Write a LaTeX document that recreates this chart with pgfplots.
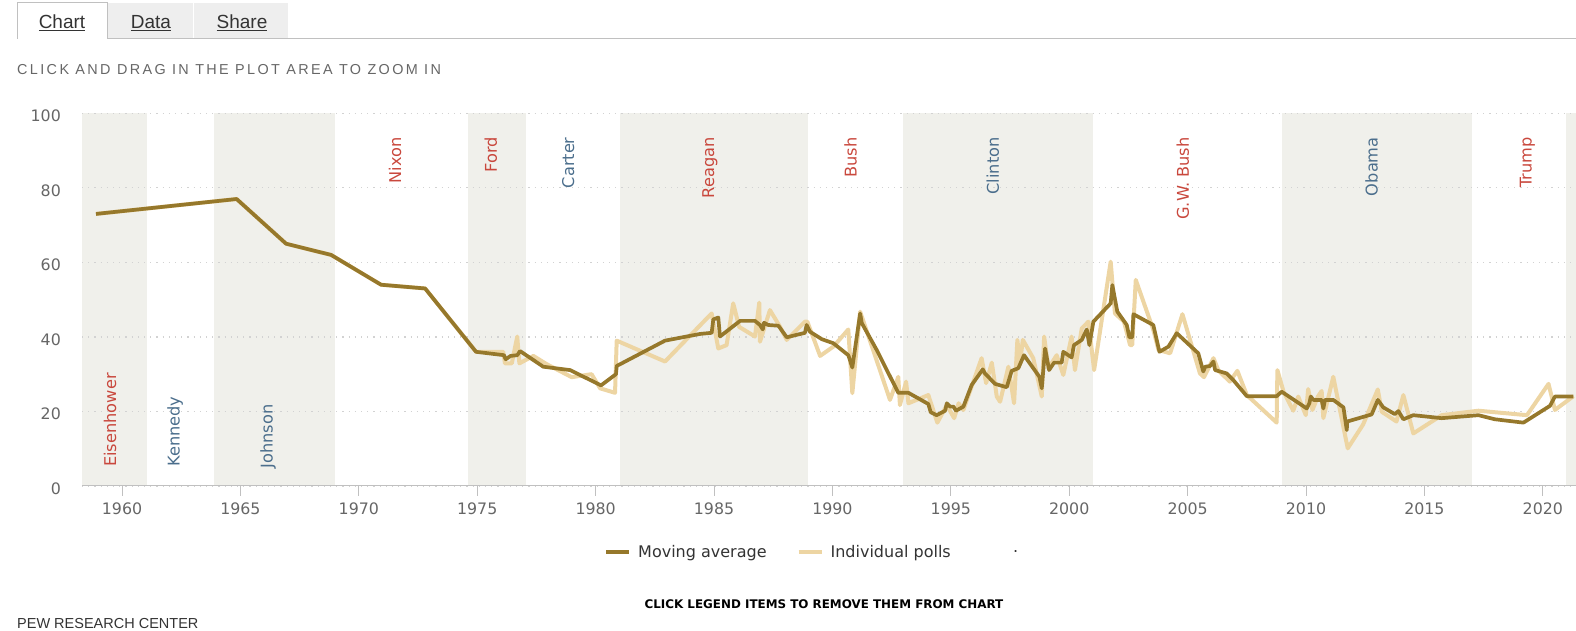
\documentclass[border=0pt]{standalone}
\usepackage{fontspec}
\setmainfont{DejaVu Sans}
\newfontfamily\lib{Liberation Sans}
\newfontfamily\libsp[LetterSpace=16.5]{Liberation Sans}
\newfontfamily\djb{DejaVu Sans Bold}
\usepackage{pgfplots}
\usepackage{pgfplotstable}
\pgfplotsset{compat=1.18}
\definecolor{shade}{HTML}{F0F0EB}
\definecolor{dark}{HTML}{96782B}
\definecolor{light}{HTML}{EDD5A3}
\definecolor{rep}{HTML}{C9483D}
\definecolor{dem}{HTML}{4B6E8C}
\definecolor{tickc}{HTML}{666666}
\definecolor{gridc}{HTML}{D2D2D2}
\definecolor{axisc}{HTML}{C0C0C0}
\definecolor{tabgray}{HTML}{EEEEEE}
\definecolor{txt}{HTML}{333333}

\pgfplotstableread{
year val
1958.9 73
1964.84 77
1966.93 65
1968.83 62
1970.94 54
1972.8 53
1974.95 36
1976.13 35.1
1976.2 34
1976.41 34.9
1976.69 35.1
1976.81 36.2
1977.79 32
1978.92 31.1
1980.23 27
1980.86 30
1980.89 32.2
1982.93 39
1984.41 40.8
1984.90 41.1
1984.97 44.7
1985.18 45.2
1985.25 40.1
1986.10 44.3
1986.73 44.3
1986.94 43.2
1987.06 42.0
1987.11 43.8
1987.29 43.2
1987.72 43.0
1988.07 39.9
1988.84 41.1
1988.91 43.2
1989.05 41.4
1989.55 39.4
1990.04 38.3
1990.67 35.1
1990.84 31.8
1991.17 46.3
1991.24 43.7
1991.87 36.5
1992.78 25.0
1993.21 25.0
1994.05 22.0
1994.15 19.8
1994.40 19.0
1994.76 20.2
1994.83 22.2
1994.97 21.3
1995.11 21.3
1995.22 20.2
1995.53 21.3
1995.88 27.1
1996.35 31.3
1996.44 30.2
1996.87 27.4
1997.36 26.5
1997.57 30.9
1997.85 31.6
1998.09 35.1
1998.74 29.3
1998.84 26.2
1998.98 36.9
1999.15 31.1
1999.36 33.1
1999.68 33.1
1999.75 36.0
2000.10 34.5
2000.20 37.8
2000.53 39.2
2000.74 42.0
2000.85 37.8
2001.02 44.1
2001.75 49.0
2001.82 53.9
2002.03 46.8
2002.43 43.2
2002.54 39.9
2002.66 39.9
2002.71 46.1
2003.55 43.2
2003.81 36.0
2004.19 37.4
2004.54 41.0
2005.45 35.6
2005.66 30.7
2005.74 32.0
2005.95 32.2
2006.09 33.4
2006.16 31.1
2006.65 30.2
2006.93 28.4
2007.50 24.1
2008.76 24.1
2008.97 25.3
2009.61 22.6
2010.03 20.8
2010.14 22.2
2010.20 24.0
2010.31 23.1
2010.66 23.1
2010.73 20.8
2010.80 23.1
2011.15 23.1
2011.58 21.1
2011.72 15.0
2011.74 17.3
2012.77 19.2
2013.03 23.1
2013.26 21.1
2013.69 19.5
2013.75 19.3
2013.90 20.1
2014.11 17.9
2014.53 19.0
2015.73 18.2
2017.28 19.0
2017.98 17.9
2019.18 17.0
2020.30 21.5
2020.51 24.0
2021.29 24.0
}\movavg

\pgfplotstableread{
year val
1958.9 73
1964.84 77
1966.93 65
1968.83 62
1970.94 54
1972.8 53
1974.95 36
1976.10 36.0
1976.17 32.9
1976.46 32.9
1976.69 40.1
1976.78 32.9
1977.37 34.9
1977.93 32.7
1978.99 29.2
1979.83 30.0
1980.19 26.2
1980.82 25.0
1980.89 39.0
1982.93 33.4
1984.90 46.3
1985.18 36.9
1985.53 37.8
1985.81 49.0
1986.06 42.7
1986.73 40.1
1986.91 49.2
1986.94 38.7
1987.36 47.2
1987.79 42.7
1988.07 39.2
1988.84 44.1
1988.94 44.1
1989.48 34.9
1990.04 37.4
1990.67 42.0
1990.84 24.9
1991.17 46.8
1992.43 23.1
1992.78 29.3
1992.85 21.7
1993.11 28.0
1993.21 22.2
1994.05 24.4
1994.43 17.0
1994.83 21.7
1995.14 18.2
1995.33 22.2
1995.53 20.4
1996.30 34.3
1996.49 27.6
1996.73 33.1
1996.94 24.0
1997.08 22.6
1997.43 32.0
1997.67 22.2
1997.81 39.2
1997.92 32.9
1998.04 39.2
1998.48 34.3
1998.84 24.0
1998.94 40.1
1999.12 31.6
1999.47 35.1
1999.75 29.8
2000.10 40.1
2000.24 31.1
2000.53 42.3
2000.81 44.1
2001.05 31.1
2001.75 60.2
2001.93 46.3
2002.31 44.1
2002.57 37.8
2002.66 37.8
2002.81 55.3
2003.55 41.9
2003.77 36.5
2004.26 35.6
2004.78 46.1
2005.52 30.2
2005.69 29.2
2006.09 34.3
2006.30 31.0
2006.78 28.0
2007.10 30.9
2007.50 24.4
2008.76 17.0
2008.79 31.1
2009.05 25.3
2009.46 20.2
2009.67 24.0
2009.99 19.0
2010.09 26.0
2010.27 20.4
2010.50 24.0
2010.66 25.5
2010.73 18.2
2011.15 29.3
2011.76 10.1
2012.41 16.5
2013.03 25.9
2013.20 19.9
2013.82 17.3
2014.11 24.4
2014.53 14.1
2015.73 19.0
2017.28 20.2
2019.33 19.0
2020.24 27.4
2020.51 20.4
2021.29 24.1
}\polls

\begin{document}
\begin{tikzpicture}
\begin{scope}[x=1bp,y=1bp]
% tabs
\fill[tabgray] (107.5,592) rectangle (193,628);
\fill[tabgray] (194,592) rectangle (288,628);
\draw[axisc, line width=1bp] (17,592) -- (17,628) -- (107,628) -- (107,592) -- (1576,592);
\node[anchor=base, inner sep=0pt, text=txt, font=\lib\fontsize{19bp}{22bp}\selectfont] at (62,602.7) {\underline{Chart}};
\node[anchor=base, inner sep=0pt, text=txt, font=\lib\fontsize{19bp}{22bp}\selectfont] at (151,602.7) {\underline{Data}};
\node[anchor=base, inner sep=0pt, text=txt, font=\lib\fontsize{19bp}{22bp}\selectfont] at (242,602.7) {\underline{Share}};
\node[anchor=base west, inner sep=0pt, text=tickc, font=\libsp\fontsize{14.4bp}{17bp}\selectfont] at (17,556) {CLICK AND DRAG IN THE PLOT AREA TO ZOOM IN};
\node[anchor=base, inner sep=0pt, text=black, font=\djb\fontsize{11.9bp}{14bp}\selectfont] at (824,23) {CLICK LEGEND ITEMS TO REMOVE THEM FROM CHART};
\node[anchor=base west, inner sep=0pt, text=txt, font=\lib\fontsize{14.5bp}{17bp}\selectfont] at (17,3) {PEW RESEARCH CENTER};
\end{scope}
\begin{axis}[
  at={(82bp,145bp)}, anchor=south west,
  scale only axis, width=1494bp, height=372.7bp,
  xmin=1958.31, xmax=2021.40, ymin=0, ymax=100,
  set layers,
  axis x line*=bottom, axis y line*=left,
  y axis line style={draw=none},
  x axis line style={draw=axisc, line width=1bp},
  xtick={1960,1965,...,2020}, ytick={0,20,...,100},
  tick align=outside, major tick length=10bp,
  xtick style={draw=axisc, line width=1bp},
  ytick style={draw=none},
  ymajorgrids,
  grid style={draw=gridc, line width=1.2bp, dash pattern=on 1.2bp off 5bp},
  /pgf/number format/assume math mode=true,
  /pgf/number format/1000 sep={},
  xticklabel style={font=\fontsize{15.8bp}{18bp}\selectfont, text=tickc, inner sep=0pt, anchor=north, yshift=-6.5bp},
  yticklabel style={font=\fontsize{15.8bp}{18bp}\selectfont, text=tickc, inner sep=0pt, anchor=east, xshift=-11bp, yshift=-2.5bp},
  legend columns=-1,
  legend style={at={(axis description cs:0.3494,-0.1771)}, anchor=west, draw=none, fill=none, inner sep=0pt,
    font=\fontsize{16bp}{19bp}\selectfont, text=txt,
    nodes={inner sep=0pt},
    /tikz/every odd column/.append style={column sep=7bp},
    /tikz/every even column/.append style={column sep=30bp}},
  legend image code/.code={\draw[#1, line cap=butt] (0bp,0.5bp) -- (23bp,0.5bp);},
]
% presidential terms
\addplot[fill=shade, draw=none, on layer=axis background, forget plot] coordinates {(1958.31,0) (1961.04,0) (1961.04,100) (1958.31,100)} --cycle;
\addplot[fill=shade, draw=none, on layer=axis background, forget plot] coordinates {(1963.9,0) (1969.0,0) (1969.0,100) (1963.9,100)} --cycle;
\addplot[fill=shade, draw=none, on layer=axis background, forget plot] coordinates {(1974.6,0) (1977.05,0) (1977.05,100) (1974.6,100)} --cycle;
\addplot[fill=shade, draw=none, on layer=axis background, forget plot] coordinates {(1981.03,0) (1988.98,0) (1988.98,100) (1981.03,100)} --cycle;
\addplot[fill=shade, draw=none, on layer=axis background, forget plot] coordinates {(1993.0,0) (2000.99,0) (2000.99,100) (1993.0,100)} --cycle;
\addplot[fill=shade, draw=none, on layer=axis background, forget plot] coordinates {(2008.97,0) (2017.0,0) (2017.0,100) (2008.97,100)} --cycle;
\addplot[fill=shade, draw=none, on layer=axis background, forget plot] coordinates {(2020.98,0) (2021.40,0) (2021.40,100) (2020.98,100)} --cycle;

\addplot[light, line width=4bp, line join=round, forget plot] table[x=year, y=val] {\polls};
\addplot[dark, line width=3.7bp, line join=round, forget plot] table[x=year, y=val] {\movavg};

\addlegendimage{dark, line width=4bp}
\addlegendentry{Moving average}
\addlegendimage{light, line width=4bp}
\addlegendentry{Individual polls}
\addlegendimage{white, draw opacity=0}
\addlegendentry{\hspace{2bp}.}

\tikzset{pres/.style={rotate=90, inner sep=0pt, font=\fontsize{16.2bp}{19bp}\selectfont}}
\node[pres, anchor=west, text=rep] at (axis cs:1959.5,5.1) {Eisenhower};
\node[pres, anchor=west, text=dem] at (axis cs:1962.24,5.1) {Kennedy};
\node[pres, anchor=west, text=dem] at (axis cs:1966.17,4.7) {Johnson};
\node[pres, anchor=east, text=rep] at (axis cs:1971.53,93.6) {Nixon};
\node[pres, anchor=east, text=rep] at (axis cs:1975.57,93.6) {Ford};
\node[pres, anchor=east, text=dem] at (axis cs:1978.84,93.6) {Carter};
\node[pres, anchor=east, text=rep] at (axis cs:1984.83,93.6) {Reagan};
\node[pres, anchor=east, text=rep] at (axis cs:1990.77,93.6) {Bush};
\node[pres, anchor=east, text=dem] at (axis cs:1996.77,93.6) {Clinton};
\node[pres, anchor=east, text=rep] at (axis cs:2004.8,93.6) {G.W. Bush};
\node[pres, anchor=east, text=dem] at (axis cs:2012.77,93.6) {Obama};
\node[pres, anchor=east, text=rep] at (axis cs:2019.35,93.6) {Trump};
\end{axis}
\pgfresetboundingbox
\path (0bp,0bp) rectangle (1576bp,631bp);
\end{tikzpicture}
\end{document}
